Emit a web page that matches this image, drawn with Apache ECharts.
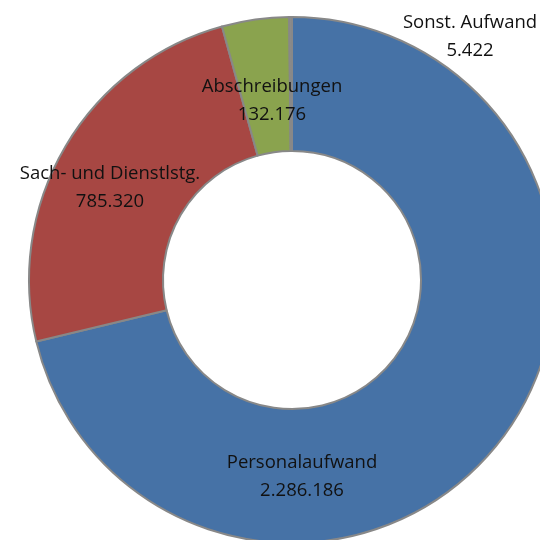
<!DOCTYPE html>
<html>
<head>
<meta charset="utf-8">
<script src="https://cdn.jsdelivr.net/npm/echarts@6/dist/echarts.min.js"></script>
<style>
html, body { margin: 0; padding: 0; background: #fff; }
#chart { width: 540px; height: 540px; }
</style>
</head>
<body>
<div id="chart"></div>
<script>
// Aufwandsarten
var names = ['Personalaufwand', 'Sach- und Dienstlstg.', 'Abschreibungen', 'Sonst. Aufwand'];
var values = [2286186, 785320, 132176, 5422];
var colors = ['#4672A6', '#A74743', '#8AA34E', '#8C8C8C'];

// where Excel put the data labels (label centres)
var labelPos = [[302, 477], [110, 188], [272, 101], [470, 37]];

function fmtDe(n) {
    return String(n).replace(/\B(?=(\d{3})+(?!\d))/g, '.');
}

var chart = echarts.init(document.getElementById('chart'));
var option = {
    backgroundColor: '#fff',
    animation: false,
    series: [{
        type: 'pie',
        center: [292, 280],
        radius: [129, 263],
        startAngle: 90,
        clockwise: true,
        avoidLabelOverlap: false,
        itemStyle: {
            borderColor: '#888',
            borderWidth: 2
        },
        label: {
            show: true,
            position: 'inside',
            color: '#111',
            fontFamily: 'Open Sans',
            fontSize: 18.5,
            lineHeight: 28,
            formatter: function (p) {
                return p.name + '\n' + fmtDe(p.value);
            }
        },
        labelLine: { show: false },
        labelLayout: function (p) {
            var pos = labelPos[p.dataIndex];
            return { x: pos[0], y: pos[1], align: 'center', verticalAlign: 'middle' };
        },
        data: names.map(function (n, i) {
            return { name: n, value: values[i], itemStyle: { color: colors[i] } };
        })
    }]
};
chart.setOption(option);
</script>
</body>
</html>
